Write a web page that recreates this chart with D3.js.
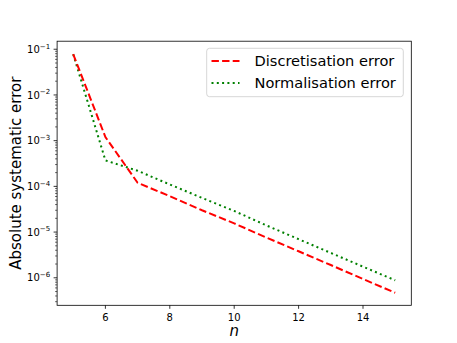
<!DOCTYPE html>
<html><head><meta charset="utf-8">
<script src="https://cdn.jsdelivr.net/npm/d3@7"></script>
<style>body{margin:0;background:#fff}svg{display:block;font-family:"DejaVu Sans",sans-serif}</style>
</head><body><svg id="c" width="457" height="343"></svg>
<script>
const nValues = [5, 6, 7, 8, 9, 10, 11, 12, 13, 14, 15];
const discretisation = [0.078, 1.2e-3, 1.2e-4, 6.1e-5, 3.0e-5, 1.55e-5, 7.6e-6, 3.8e-6, 1.9e-6, 9.4e-7, 4.7e-7];
const normalisation = [0.078, 3.7e-4, 2.2e-4, 1.1e-4, 5.6e-5, 2.9e-5, 1.4e-5, 7.0e-6, 3.5e-6, 1.75e-6, 8.8e-7];
const seriesNames = ["Discretisation error", "Normalisation error"];
const xTicks = [6, 8, 10, 12, 14];
const yTickExps = [-1, -2, -3, -4, -5, -6];

const L = 57.1, R = 411.3, T = 41.2, B = 305.3;
const svg = d3.select("#c");
const x = d3.scaleLinear().domain([4.5, 15.5]).range([L, R]);
const y = d3.scaleLog().domain([2.5e-7, 0.15]).range([B, T]);

// lines
const line = d3.line().x((d, i) => x(nValues[i])).y(d => y(d));
svg.append("path").datum(normalisation).attr("d", line)
  .attr("fill", "none").attr("stroke", "#008000").attr("stroke-width", 2)
  .attr("stroke-dasharray", "2,3.3");
svg.append("path").datum(discretisation).attr("d", line)
  .attr("fill", "none").attr("stroke", "#ff0000").attr("stroke-width", 2)
  .attr("stroke-dasharray", "7.4,3.2");

// frame
svg.append("rect").attr("x", L).attr("y", T).attr("width", R - L).attr("height", B - T)
  .attr("fill", "none").attr("stroke", "#000").attr("stroke-width", 0.8);

// x axis ticks
const gx = svg.append("g");
xTicks.forEach(t => {
  gx.append("line").attr("x1", x(t)).attr("x2", x(t)).attr("y1", B).attr("y2", B + 3.5)
    .attr("stroke", "#000").attr("stroke-width", 0.8);
  gx.append("text").attr("x", x(t)).attr("y", B + 15.5).attr("text-anchor", "middle")
    .attr("font-size", 10).attr("fill", "#000").text(t);
});
svg.append("text").attr("x", (L + R) / 2).attr("y", B + 31).attr("text-anchor", "middle")
  .attr("font-size", 15).attr("font-style", "italic").text("n");

// y axis ticks
const gy = svg.append("g");
const [ylo, yhi] = y.domain();
for (let e = -7; e <= 0; e++) {
  for (let m = 1; m < 10; m++) {
    const v = m * Math.pow(10, e);
    if (v < ylo || v > yhi) continue;
    const major = m === 1;
    gy.append("line").attr("x1", L).attr("x2", L - (major ? 3.5 : 2)).attr("y1", y(v)).attr("y2", y(v))
      .attr("stroke", "#000").attr("stroke-width", major ? 0.8 : 0.6);
  }
}
yTickExps.forEach(e => {
  const t = gy.append("text").attr("x", L - 7).attr("y", y(Math.pow(10, e)) + 3.6)
    .attr("text-anchor", "end").attr("font-size", 10).attr("fill", "#000");
  t.append("tspan").text("10");
  t.append("tspan").attr("font-size", 7).attr("dy", -4.2).text("\u2212" + Math.abs(e));
});
svg.append("text").attr("transform", `translate(20.7,${(T + B) / 2}) rotate(-90)`)
  .attr("text-anchor", "middle").attr("font-size", 15).text("Absolute systematic error");

// legend
const lg = svg.append("g");
lg.append("rect").attr("x", 206.7).attr("y", 48.3).attr("width", 196.6).attr("height", 48.4)
  .attr("rx", 2.8).attr("fill", "#fff").attr("fill-opacity", 0.8).attr("stroke", "#cccccc").attr("stroke-width", 0.8);
const styles = [{c: "#ff0000", d: "7.4,3.2"}, {c: "#008000", d: "2,3.3"}];
seriesNames.forEach((name, i) => {
  const cy = 61 + i * 22;
  lg.append("line").attr("x1", 211.5).attr("x2", 239.5).attr("y1", cy).attr("y2", cy)
    .attr("stroke", styles[i].c).attr("stroke-width", 2).attr("stroke-dasharray", styles[i].d);
  lg.append("text").attr("x", 254.5).attr("y", cy + 5.3).attr("font-size", 14.6).text(name);
});
</script></body></html>
